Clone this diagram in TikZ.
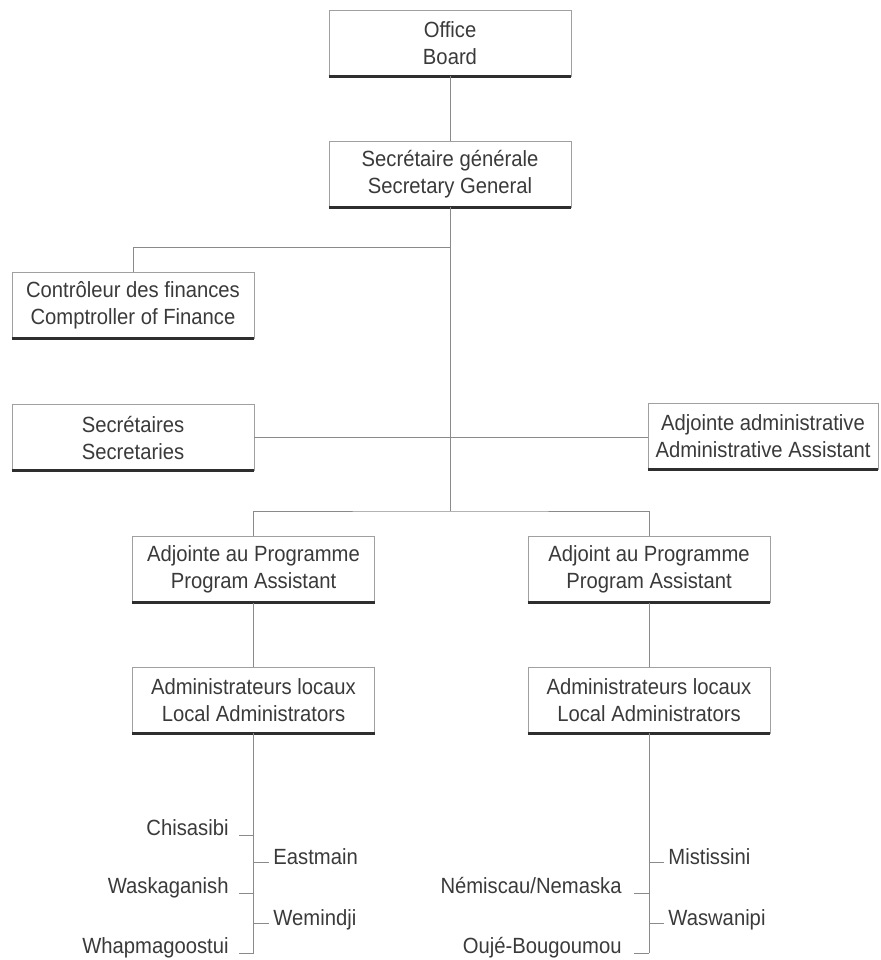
\documentclass[tikz,border=0pt]{standalone}
\usepackage{fontspec}
\setmainfont{Liberation Sans}[FakeStretch=0.92]
\definecolor{ink}{HTML}{3A3A3A}
\definecolor{rule}{HTML}{8A8A8A}
\definecolor{frame}{HTML}{A0A0A0}
\definecolor{sill}{HTML}{2E2E2E}

\begin{document}
\begin{tikzpicture}[x=0.5pt,y=-0.5pt,line cap=butt,
  every node/.style={inner sep=1pt,text=ink,font=\fontsize{11}{13.5}\selectfont},
  post/.style={draw=frame,line width=0.45pt,minimum width=121pt,minimum height=33pt,align=center},
  link/.style={draw=rule,line width=0.5pt},
  sillline/.style={draw=sill,line width=1.5pt}]
  \useasboundingbox (0,0) rectangle (880,960);
  % boxes
  \node[post] (board)  at (450,43)    {Office\\Board};
  \node[post] (secgen) at (450,174)   {Secrétaire générale\\Secretary General};
  \node[post] (comp)   at (133,305.5) {Contrôleur des finances\\Comptroller of Finance};
  \node[post] (secr)   at (133,437.5) {Secrétaires\\Secretaries};
  \node[post,minimum width=115pt] (admin) at (763,436) {Adjointe administrative\\Administrative Assistant};
  \node[post] (pa1) at (253.5,569.5) {Adjointe au Programme\\Program Assistant};
  \node[post] (pa2) at (649,569.5)   {Adjoint au Programme\\Program Assistant};
  \node[post] (la1) at (253.5,700)   {Administrateurs locaux\\Local Administrators};
  \node[post] (la2) at (649,700)     {Administrateurs locaux\\Local Administrators};
  \foreach \n in {board,secgen,comp,secr,admin,pa1,pa2,la1,la2}
    \draw[sillline] (\n.south west) -- (\n.south east);
  % links
  \coordinate (fork1) at (450,247);
  \coordinate (fork3) at (450,511);
  \draw[link] (board.south) -- (secgen.north);
  \draw[link] (secgen.south) -- (fork3);
  \draw[link] (comp.north) |- (fork1);
  \draw[link] (secr.east) -- (admin.west |- secr.east);
  \draw[link] (pa1.north) |- (fork3) -| (pa2.north);
  \draw[link] (pa1.south) -- (la1.north);
  \draw[link] (pa2.south) -- (la2.north);
  % communities
  \coordinate (end1) at (la1.south |- 0,953);
  \coordinate (end2) at (la2.south |- 0,953);
  \draw[link] (la1.south) -- (end1);
  \draw[link] (la2.south) -- (end2);
  \foreach \y/\n/\t in {835/chis/Chisasibi,893/wask/Waskaganish,953/whap/Whapmagoostui}{
    \draw[link] (la1.south |- 0,\y) -- ++(-15,0);
    \node[anchor=base east] (\n) at (231,\y) {\t};
  }
  \foreach \y/\n/\t in {862/east/Eastmain,923/wemi/Wemindji}{
    \draw[link] (la1.south |- 0,\y) -- ++(15,0);
    \node[anchor=base west] (\n) at (271,{\y+2}) {\t};
  }
  \foreach \y/\n/\t in {893/nemi/{Némiscau/Nemaska},953/ouje/Oujé-Bougoumou}{
    \draw[link] (la2.south |- 0,\y) -- ++(-15,0);
    \node[anchor=base east] (\n) at (624,\y) {\t};
  }
  \foreach \y/\n/\t in {862/mist/Mistissini,923/wasw/Waswanipi}{
    \draw[link] (la2.south |- 0,\y) -- ++(15,0);
    \node[anchor=base west] (\n) at (666,{\y+2}) {\t};
  }
\end{tikzpicture}
\end{document}
